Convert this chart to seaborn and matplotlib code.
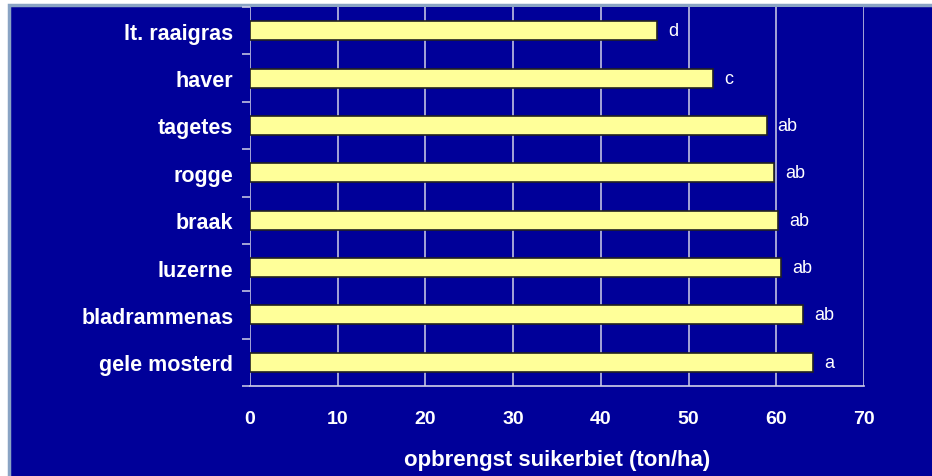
import matplotlib
matplotlib.use("Agg")
import matplotlib.pyplot as plt
import matplotlib.patches as mpatches
from matplotlib.ticker import FixedLocator
import pandas as pd
import seaborn as sns

# ── data ──────────────────────────────────────────────────────
gewassen = ["lt. raaigras", "haver", "tagetes", "rogge", "braak",
            "luzerne", "bladrammenas", "gele mosterd"]
opbrengst = [46.4, 52.8, 58.9, 59.7, 60.2, 60.5, 63.1, 64.2]
letters = ["d", "c", "ab", "ab", "ab", "ab", "ab", "a"]
x_ticks = [0, 10, 20, 30, 40, 50, 60, 70]

BLUE = "#000099"
YELLOW = "#FFFF99"
GRID = "#d0d0e8"

df = pd.DataFrame({"gewas": gewassen, "opbrengst": opbrengst})

sns.set_theme(style="white")
plt.rcParams["font.family"] = ["Liberation Sans", "DejaVu Sans"]

fig = plt.figure(figsize=(9.32, 4.77), dpi=100, facecolor="white")
# blue slide background with grey-blue border
fig.patches.append(mpatches.Rectangle((9 / 932, -0.01), 1.0, 1 - 5.5 / 477 + 0.01,
                                      transform=fig.transFigure, facecolor=BLUE,
                                      edgecolor="#8aa4c4", linewidth=2.5, zorder=-10))

ax = fig.add_axes([250 / 932, 1 - 387 / 477, 614 / 932, 379 / 477])
ax.set_facecolor(BLUE)

sns.barplot(data=df, x="opbrengst", y="gewas", orient="h", ax=ax,
            color=YELLOW, edgecolor="#222222", linewidth=1.2,
            width=0.4, saturation=1, zorder=3)

ax.set_xlim(0, 70)
ax.set_ylim(len(gewassen) - 0.5, -0.5)
ax.xaxis.set_major_locator(FixedLocator(x_ticks))
ax.grid(axis="x", color=GRID, linewidth=1.1, zorder=0)
ax.grid(axis="y", visible=False)

for s in ["top", "right", "left"]:
    ax.spines[s].set_visible(False)
ax.spines["bottom"].set_color(GRID)
ax.spines["bottom"].set_linewidth(1.2)

ax.tick_params(axis="x", colors=GRID, length=6, width=1.1, direction="out",
               labelcolor="white", labelsize=14, pad=11)
for lab in ax.get_xticklabels():
    lab.set_fontweight("bold")

# category labels at centres, tick marks at the boundaries
ax.tick_params(axis="y", which="major", length=0, pad=12,
               labelcolor="white", labelsize=15.5)
for lab in ax.get_yticklabels():
    lab.set_fontweight("bold")
ax.yaxis.set_minor_locator(FixedLocator([i + 0.5 for i in range(-1, len(gewassen))]))
ax.tick_params(axis="y", which="minor", left=True, length=6, width=1.1, color=GRID)

ax.set_ylabel("")
ax.set_xlabel("opbrengst suikerbiet (ton/ha)", color="white", fontsize=16,
              fontweight="bold", labelpad=16)

for i, (v, t) in enumerate(zip(opbrengst, letters)):
    ax.annotate(t, xy=(v, i), xytext=(8, 0), textcoords="offset points",
                color="white", fontsize=13, va="center", ha="left")

fig.savefig("out.png", dpi=100, facecolor=fig.get_facecolor())
